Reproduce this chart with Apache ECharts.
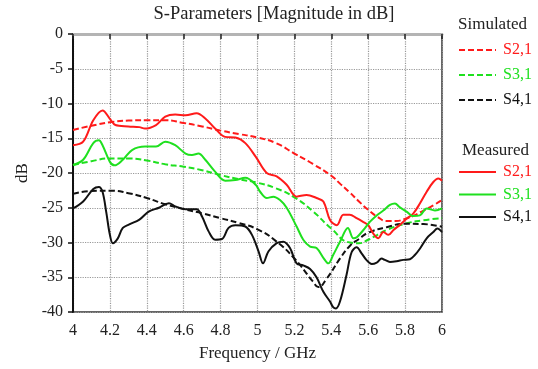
<!DOCTYPE html>
<html>
<head>
<meta charset="utf-8">
<script src="https://cdn.jsdelivr.net/npm/echarts@6/dist/echarts.min.js"></script>
<style>
  html, body { margin: 0; padding: 0; background: #fff; }
  #chart { width: 538px; height: 369px; }
</style>
</head>
<body>
<div id="chart"></div>
<script>
// Frequency axis ticks (GHz) and magnitude axis ticks (dB)
const freqTicks = [4, 4.2, 4.4, 4.6, 4.8, 5, 5.2, 5.4, 5.6, 5.8, 6];
const dbTicks = [0, -5, -10, -15, -20, -25, -30, -35, -40];

// Simulated S2,1
const simS21Freq = [4.0, 4.1, 4.2, 4.3, 4.4, 4.5, 4.6, 4.7, 4.8, 4.9, 5.0, 5.1, 5.2, 5.3, 5.4, 5.45, 5.5, 5.55, 5.6, 5.65, 5.7, 5.75, 5.8, 5.85, 5.9, 5.95, 6.0];
const simS21 = [-13.8, -13.2, -12.7, -12.45, -12.4, -12.4, -12.8, -13.3, -13.9, -14.4, -14.9, -15.7, -17.2, -18.7, -20.4, -21.6, -22.8, -24.1, -25.3, -26.3, -26.9, -26.9, -26.6, -26.1, -25.4, -24.7, -23.9];

// Simulated S3,1
const simS31Freq = [4.0, 4.1, 4.2, 4.3, 4.4, 4.5, 4.6, 4.7, 4.8, 4.9, 5.0, 5.1, 5.2, 5.3, 5.4, 5.5, 5.55, 5.6, 5.65, 5.7, 5.8, 5.9, 6.0];
const simS31 = [-18.85, -18.3, -17.9, -17.9, -18.2, -18.75, -19.1, -19.6, -20.3, -20.9, -21.4, -22.2, -23.5, -25.5, -28.0, -30.0, -30.1, -29.6, -28.9, -28.2, -27.3, -26.8, -26.5];

// Simulated S4,1
const simS41Freq = [4.0, 4.1, 4.2, 4.3, 4.4, 4.5, 4.6, 4.7, 4.8, 4.9, 5.0, 5.1, 5.2, 5.3, 5.33, 5.375, 5.45, 5.5, 5.55, 5.6, 5.7, 5.8, 5.9, 6.0];
const simS41 = [-23.0, -22.6, -22.55, -22.9, -23.6, -24.5, -25.2, -25.8, -26.5, -27.2, -28.1, -29.8, -32.3, -35.6, -36.4, -35.2, -32.2, -30.5, -29.5, -28.6, -27.8, -27.3, -27.35, -27.75];

// Measured S2,1
const measS21Freq = [4.0, 4.055, 4.11, 4.16, 4.2, 4.23, 4.3, 4.36, 4.39, 4.45, 4.5, 4.554, 4.61, 4.67, 4.717, 4.77, 4.825, 4.88, 4.934, 4.99, 5.05, 5.104, 5.158, 5.212, 5.266, 5.32, 5.357, 5.393, 5.43, 5.465, 5.5, 5.537, 5.57, 5.6, 5.627, 5.655, 5.682, 5.71, 5.737, 5.77, 5.81, 5.845, 5.88, 5.917, 5.953, 5.98, 6.0];
const measS21 = [-16.0, -15.5, -12.4, -11.0, -12.2, -13.1, -13.3, -13.4, -13.6, -13.1, -11.9, -11.6, -11.7, -11.4, -12.15, -13.6, -14.8, -14.9, -15.7, -17.65, -20.0, -20.5, -21.7, -23.4, -23.15, -23.6, -24.1, -26.75, -27.5, -26.0, -26.0, -26.5, -27.0, -27.5, -28.7, -29.4, -28.5, -28.9, -28.2, -27.5, -26.55, -25.8, -24.4, -22.7, -21.3, -20.8, -21.1];

// Measured S3,1
const measS31Freq = [4.0, 4.055, 4.11, 4.14, 4.16, 4.2, 4.225, 4.27, 4.32, 4.39, 4.45, 4.5, 4.554, 4.61, 4.645, 4.68, 4.717, 4.77, 4.825, 4.88, 4.934, 4.99, 5.014, 5.05, 5.086, 5.122, 5.158, 5.212, 5.248, 5.285, 5.32, 5.357, 5.384, 5.41, 5.447, 5.49, 5.52, 5.54, 5.574, 5.61, 5.646, 5.682, 5.718, 5.745, 5.77, 5.81, 5.845, 5.88, 5.917, 5.962, 6.0];
const measS31 = [-18.85, -18.1, -15.7, -15.3, -16.0, -18.4, -18.9, -18.1, -16.7, -16.2, -16.2, -15.5, -16.0, -17.2, -17.4, -17.2, -18.1, -19.8, -21.1, -21.0, -20.7, -21.7, -22.7, -23.6, -23.4, -23.9, -25.0, -27.7, -29.6, -30.6, -30.8, -32.2, -33.0, -31.8, -29.9, -27.9, -29.4, -29.2, -28.2, -27.0, -26.1, -25.4, -24.6, -24.4, -24.9, -25.6, -26.2, -26.1, -25.1, -25.4, -25.1];

// Measured S4,1
const measS41Freq = [4.0, 4.055, 4.11, 4.14, 4.16, 4.18, 4.2, 4.216, 4.243, 4.27, 4.305, 4.36, 4.41, 4.466, 4.52, 4.554, 4.61, 4.67, 4.7, 4.735, 4.77, 4.807, 4.843, 4.88, 4.934, 4.97, 5.006, 5.03, 5.059, 5.104, 5.14, 5.176, 5.212, 5.248, 5.285, 5.32, 5.357, 5.393, 5.41, 5.425, 5.447, 5.483, 5.51, 5.537, 5.565, 5.59, 5.619, 5.646, 5.673, 5.69, 5.718, 5.754, 5.79, 5.826, 5.853, 5.88, 5.917, 5.953, 5.975, 6.0];
const measS41 = [-25.1, -24.1, -22.3, -22.0, -22.7, -25.6, -28.9, -30.1, -29.4, -27.9, -27.4, -26.7, -25.55, -25.0, -24.35, -24.8, -25.2, -25.2, -26.3, -28.4, -29.6, -29.5, -27.9, -27.5, -27.7, -28.9, -31.3, -33.0, -31.3, -30.1, -29.9, -30.8, -33.0, -33.3, -33.8, -35.0, -37.1, -38.5, -39.3, -39.5, -38.5, -34.6, -31.4, -30.7, -31.6, -32.5, -33.1, -32.9, -32.3, -32.5, -32.8, -32.7, -32.5, -32.4, -31.8, -30.9, -29.4, -28.5, -28.0, -28.5];

const FONT = '"Liberation Serif", "Times New Roman", Times, serif';
const RED = '#ff1a1a';
const GREEN = '#1fe01f';
const BLACK = '#111111';

function pairs(xs, ys) {
  return xs.map((x, i) => [x, ys[i]]);
}

function curve(name, xs, ys, color, dashed) {
  return {
    name: name,
    type: 'line',
    data: pairs(xs, ys),
    smooth: dashed ? 0.5 : 0.35,
    symbol: 'none',
    silent: true,
    lineStyle: {
      color: color,
      width: 2,
      type: dashed ? [6, 3] : 'solid'
    },
    itemStyle: { color: color }
  };
}

// Shared settings for the two legend blocks (line sample only, no marker)
function legendBlock(top, gap, names, colors) {
  return {
    orient: 'vertical',
    left: 458, top: top,
    padding: 0,
    itemWidth: 37, itemHeight: 14, itemGap: gap,
    selectedMode: false,
    itemStyle: { opacity: 0, borderWidth: 0 },
    formatter: n => n.split(' ')[1],
    textStyle: { fontFamily: FONT, fontSize: 16, lineHeight: 16, padding: [0, 0, 0, 2] },
    data: names.map((n, i) => ({ name: n, textStyle: { color: colors[i] } }))
  };
}

const chart = echarts.init(document.getElementById('chart'), null, { renderer: 'canvas' });

chart.setOption({
  animation: false,
  backgroundColor: '#ffffff',
  grid: {
    left: 73, right: 96, top: 34, bottom: 57,
    show: true,
    borderColor: '#333333',
    borderWidth: 1.5,
    backgroundColor: 'transparent'
  },
  xAxis: {
    type: 'value',
    min: freqTicks[0],
    max: freqTicks[freqTicks.length - 1],
    interval: 0.2,
    name: 'Frequency / GHz',
    nameLocation: 'middle',
    nameGap: 33,
    nameTextStyle: { fontFamily: FONT, fontSize: 17, color: '#222' },
    axisLine: { show: true, lineStyle: { color: '#b4b4b4', width: 3 } },
    axisTick: { show: true, length: 5, lineStyle: { color: '#222', width: 1.5 } },
    axisLabel: {
      margin: 11,
      fontFamily: FONT, fontSize: 16, color: '#222',
      formatter: v => String(+v.toFixed(1))
    },
    splitLine: { show: true, lineStyle: { color: '#999', type: 'dotted', width: 1.2 } }
  },
  yAxis: {
    type: 'value',
    min: dbTicks[dbTicks.length - 1],
    max: dbTicks[0],
    interval: 5,
    name: 'dB',
    nameLocation: 'middle',
    nameGap: 37,
    nameRotate: 90,
    nameTextStyle: { fontFamily: FONT, fontSize: 17, color: '#222' },
    axisLine: { show: true, lineStyle: { color: '#111', width: 2 } },
    axisTick: { show: true, length: 5, lineStyle: { color: '#111', width: 1.5 } },
    axisLabel: { margin: 10, fontFamily: FONT, fontSize: 16, color: '#222' },
    splitLine: { show: true, lineStyle: { color: '#999', type: 'dotted', width: 1.2 } }
  },
  legend: [
    legendBlock(42, 9, ['Simulated S2,1', 'Simulated S3,1', 'Simulated S4,1'], [RED, GREEN, BLACK]),
    legendBlock(164, 6.5, ['Measured S2,1', 'Measured S3,1', 'Measured S4,1'], [RED, GREEN, BLACK])
  ],
  graphic: [
    {
      type: 'text', x: 274, y: 14,
      style: { text: 'S-Parameters [Magnitude in dB]', font: '18.5px ' + FONT, fill: '#222', textAlign: 'center', textVerticalAlign: 'middle' }
    },
    {
      type: 'text', x: 458, y: 25,
      style: { text: 'Simulated', font: '17px ' + FONT, fill: '#222', textAlign: 'left', textVerticalAlign: 'middle' }
    },
    {
      type: 'text', x: 462, y: 151,
      style: { text: 'Measured', font: '17px ' + FONT, fill: '#222', textAlign: 'left', textVerticalAlign: 'middle' }
    }
  ],
  series: [
    curve('Simulated S2,1', simS21Freq, simS21, RED, true),
    curve('Simulated S3,1', simS31Freq, simS31, GREEN, true),
    curve('Simulated S4,1', simS41Freq, simS41, BLACK, true),
    curve('Measured S2,1', measS21Freq, measS21, RED, false),
    curve('Measured S3,1', measS31Freq, measS31, GREEN, false),
    curve('Measured S4,1', measS41Freq, measS41, BLACK, false)
  ]
});
</script>
</body>
</html>
